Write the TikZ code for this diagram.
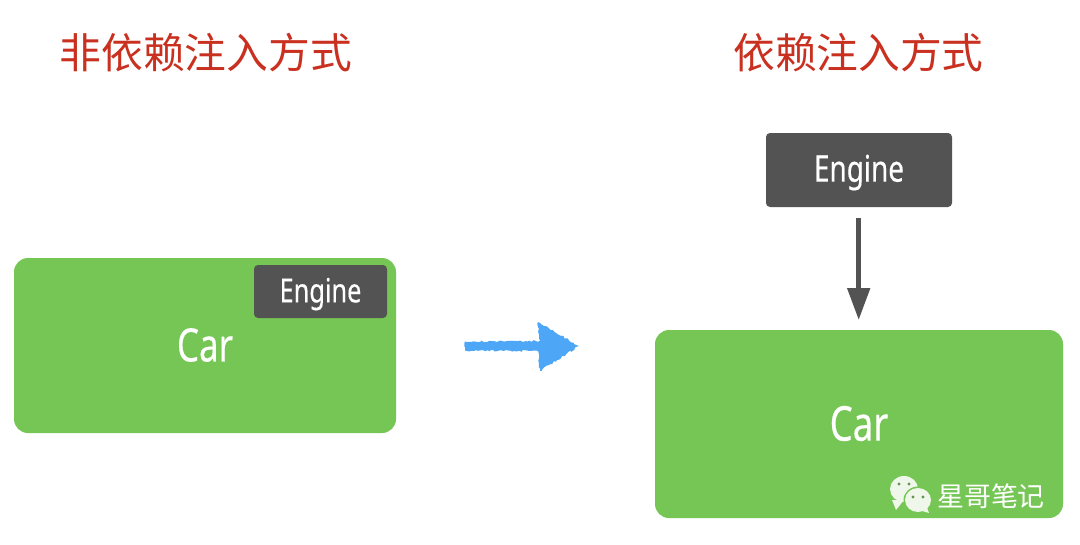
\documentclass[tikz,border=0pt]{standalone}
\usepackage{fontspec}
\usetikzlibrary{arrows.meta,decorations.pathmorphing}
\setmainfont{Noto Sans}
\newfontfamily\cjk{Noto Sans CJK SC}
\newfontfamily\narrowsans[FakeStretch=0.76,FakeBold=0.35]{Noto Sans}
\definecolor{cargreen}{HTML}{76C655}
\definecolor{enginegray}{HTML}{535353}
\definecolor{titlered}{HTML}{C9301F}
\definecolor{chalkblue}{HTML}{4DA7F6}
\definecolor{bubble}{HTML}{EFF6EA}
\tikzset{
  x=0.75pt,y=-0.75pt,
  titlelabel/.style={text=titlered,inner sep=0pt,font=\cjk\fontsize{31.3}{32}\selectfont},
  carbox/.style={fill=cargreen,rounded corners=10.5pt,inner sep=0pt},
  carlabel/.style={text=white,inner sep=0pt},
  enginebox/.style={fill=enginegray,rounded corners=3pt,inner sep=0pt,text=white},
  dependency/.style={draw=enginegray,line width=3.8pt,-{Triangle[length=24pt,width=16.5pt]}},
  chalk/.style={fill=chalkblue,decorate,decoration={random steps,segment length=1.6pt,amplitude=0.7pt}},
}
\begin{document}
\begin{tikzpicture}
\useasboundingbox (0,0) rectangle (1080,544);
\fill[white] (0,0) rectangle (1080,544);

% headings
\node[titlelabel] (leftTitle) at (205.7,53) {非依赖注入方式};
\node[titlelabel] (rightTitle) at (858.5,53) {依赖注入方式};

% composition inside the car
\node[carbox,minimum width=286.5pt,minimum height=131.25pt] (carA) at (205,345.5) {};
\node[carlabel,font=\narrowsans\fontsize{34.5}{36}\selectfont] (carAText) at (205,345) {Car};
\node[enginebox,font=\narrowsans\fontsize{25}{27}\selectfont,text height=17.8pt,text depth=1.5pt,minimum width=99.75pt,minimum height=39.75pt] (engineA) at (320.5,291.5) {Engine};

% hand-drawn transition arrow
\fill[chalk] (465,341.5) -- (540,341) -- (538,322) -- (579,346) -- (540,371) -- (538,351) -- (465,350.5) -- cycle;

% engine supplied from outside
\node[carbox,minimum width=306pt,minimum height=141pt] (carB) at (859,424) {};
\node[carlabel,font=\narrowsans\fontsize{36}{38}\selectfont] (carBText) at (859,423.5) {Car};
\node[enginebox,font=\narrowsans\fontsize{27.5}{29}\selectfont,text height=19.6pt,text depth=2.1pt,minimum width=139.5pt,minimum height=55.5pt] (engineB) at (859,170) {Engine};
\coordinate (arrowStart) at (858.7,218);
\coordinate (arrowEnd) at (858.7,320);
\draw[dependency] (arrowStart) -- (arrowEnd);

% account mark
\fill[bubble] (892,500) -- (896,510) -- (904,500) -- cycle;
\fill[bubble] (904,489) ellipse (14 and 13);
\fill[cargreen] (918,500) ellipse (14.5 and 13.5);
\fill[bubble] (926,505) -- (929,513) -- (919,510) -- cycle;
\fill[bubble] (918,500) ellipse (13 and 12);
\foreach \ex/\ey in {899/484,909/484,913/497,923/497}
  \fill[enginegray!45!cargreen] (\ex,\ey) circle (1.6);
\node[text=white,inner sep=0pt,font=\cjk\fontsize{20.2}{21}\selectfont] (mark) at (991,496) {星哥笔记};
\end{tikzpicture}
\end{document}
